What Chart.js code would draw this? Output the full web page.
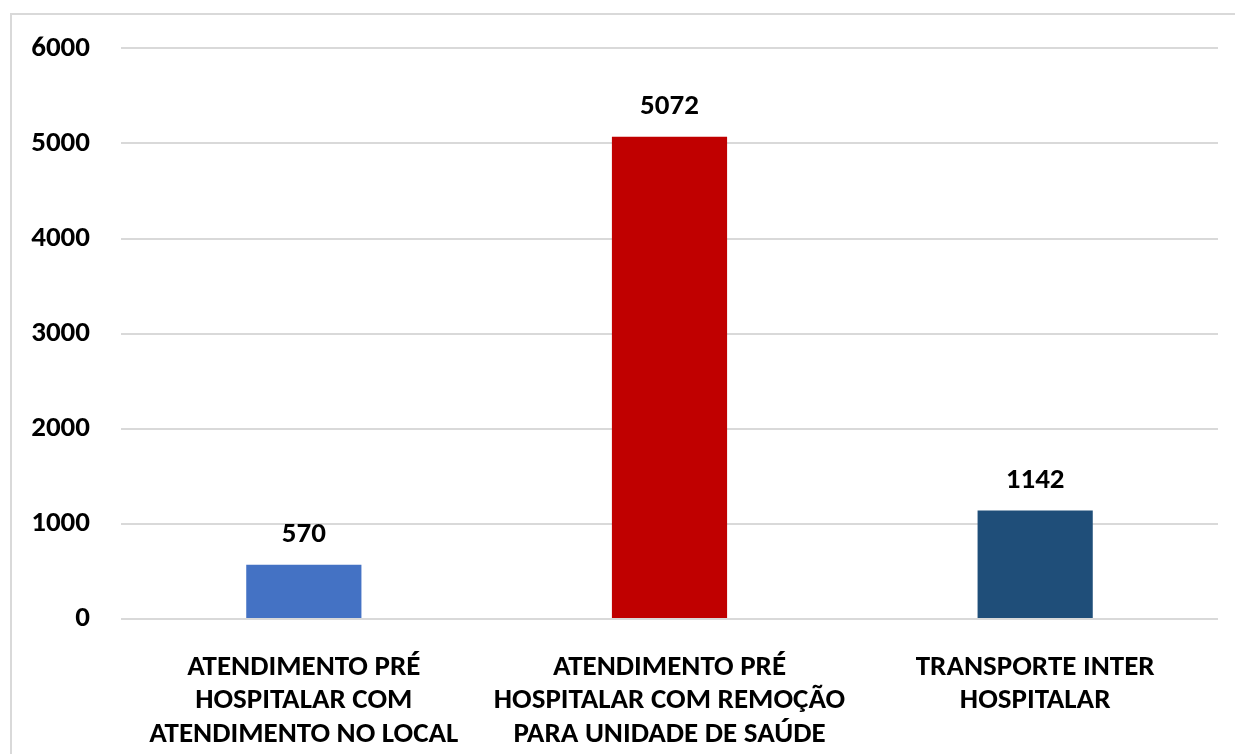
<!DOCTYPE html>
<html>
<head>
<meta charset="utf-8">
<script src="https://cdn.jsdelivr.net/npm/chart.js@4"></script>
<style>
  body { margin: 0; background: #fff; overflow: hidden; }
  #frame { position: absolute; left: 10px; top: 13px; width: 1240px; height: 760px; border: 2px solid #d9d9d9; }
  #wrap { position: absolute; left: 0; top: 0; width: 1235px; height: 754px; }
</style>
</head>
<body>
<div id="frame"></div>
<div id="wrap"><canvas id="chart"></canvas></div>
<script>
const categories = [
    ['ATENDIMENTO PRÉ', 'HOSPITALAR COM', 'ATENDIMENTO NO LOCAL'],
    ['ATENDIMENTO PRÉ', 'HOSPITALAR COM REMOÇÃO', 'PARA UNIDADE DE SAÚDE'],
    ['TRANSPORTE INTER', 'HOSPITALAR']
];
const values = [570, 5072, 1142];
const barColors = ['#4472C4', '#C00000', '#1F4E79'];
const yMax = 6000;
const yStep = 1000;

const FONT = 'Calibri, Carlito, "Open Sans", sans-serif';

// value labels above each bar
const valueLabels = {
    id: 'valueLabels',
    afterDatasetsDraw(chart) {
        const ctx = chart.ctx;
        const meta = chart.getDatasetMeta(0);
        ctx.save();
        ctx.font = 'bold 29px ' + FONT;
        ctx.fillStyle = '#000';
        ctx.textAlign = 'center';
        ctx.textBaseline = 'middle';
        meta.data.forEach((bar, i) => {
            ctx.fillText(values[i], bar.x, bar.y - 30);
        });
        ctx.restore();
    }
};

new Chart(document.getElementById('chart'), {
    type: 'bar',
    data: {
        labels: categories,
        datasets: [{
            data: values,
            backgroundColor: barColors,
            categoryPercentage: 1,
            barPercentage: 0.315
        }]
    },
    options: {
        responsive: true,
        maintainAspectRatio: false,
        animation: false,
        layout: { padding: { top: 44, right: 17, left: 0, bottom: 0 } },
        plugins: {
            legend: { display: false },
            tooltip: { enabled: false }
        },
        scales: {
            x: {
                grid: { display: false },
                border: { display: false },
                ticks: {
                    color: '#000',
                    padding: 24,
                    maxRotation: 0,
                    autoSkip: false,
                    font: { family: FONT, size: 29, weight: 'bold', lineHeight: 1.155 }
                },
                afterFit(scale) { scale.height = 135; }
            },
            y: {
                min: 0,
                max: yMax,
                grid: { color: '#d9d9d9', lineWidth: 2, drawTicks: false },
                border: { display: false },
                ticks: {
                    stepSize: yStep,
                    color: '#000',
                    padding: 31,
                    font: { family: FONT, size: 29, weight: 'bold' },
                    callback: v => String(v)
                },
                afterFit(scale) { scale.width = 121; }
            }
        }
    },
    plugins: [valueLabels]
});
</script>
</body>
</html>
